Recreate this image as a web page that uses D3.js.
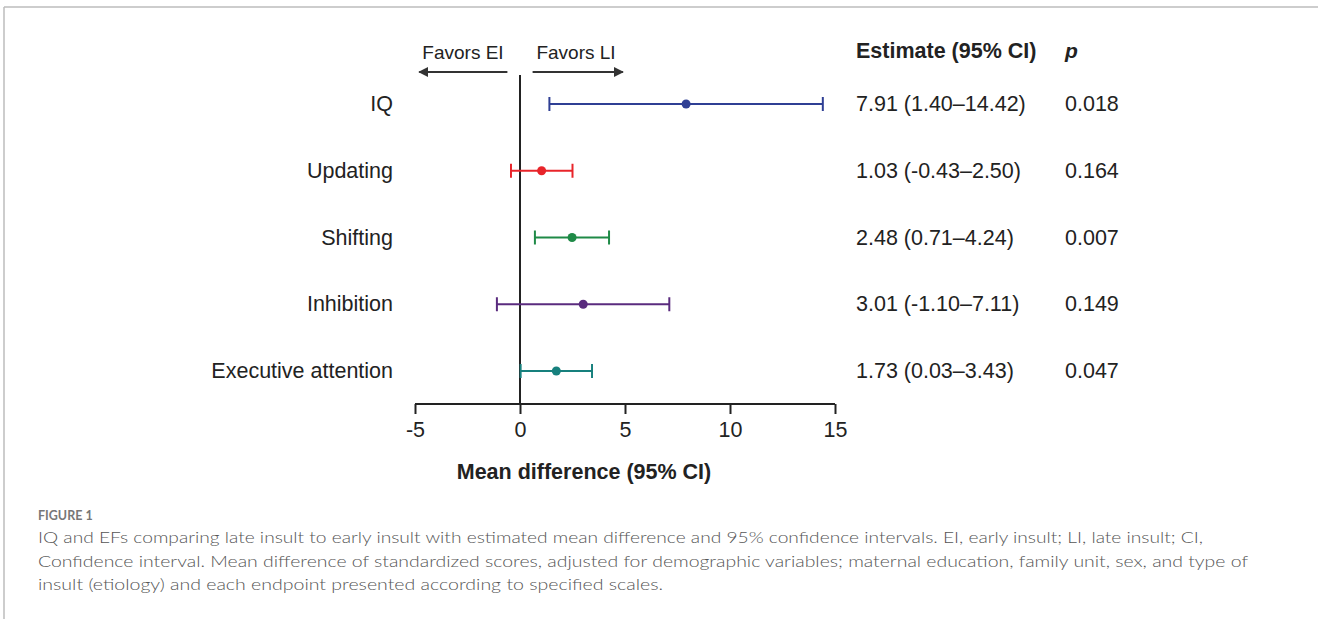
<!DOCTYPE html>
<html>
<head>
<meta charset="utf-8">
<script src="https://cdn.jsdelivr.net/npm/d3@7"></script>
<style>
  body { margin: 0; background: #fff; }
  svg { display: block; }
</style>
</head>
<body>
<svg id="forest"></svg>
<script>
(function(){
    "use strict";

    const width = 1318,
        height = 619;

    // data
    const outcomes = ["IQ", "Updating", "Shifting", "Inhibition", "Executive attention"];
    const estimates = [7.91, 1.03, 2.48, 3.01, 1.73];
    const lower = [1.40, -0.43, 0.71, -1.10, 0.03];
    const upper = [14.42, 2.50, 4.24, 7.11, 3.43];
    const estimateLabels = ["7.91 (1.40\u201314.42)", "1.03 (-0.43\u20132.50)", "2.48 (0.71\u20134.24)",
        "3.01 (-1.10\u20137.11)", "1.73 (0.03\u20133.43)"];
    const pValues = ["0.018", "0.164", "0.007", "0.149", "0.047"];
    const colors = ["#2f3f94", "#e8242a", "#1f8a47", "#5a2b7e", "#17807d"];
    const xTicks = [-5, 0, 5, 10, 15];

    const captionLines = [
        "IQ and EFs comparing late insult to early insult with estimated mean difference and 95% confidence intervals. EI, early insult; LI, late insult; CI,",
        "Confidence interval. Mean difference of standardized scores, adjusted for demographic variables; maternal education, family unit, sex, and type of",
        "insult (etiology) and each endpoint presented according to specified scales."
    ];
    const captionEnds = [1203, 1248, 663];

    const rows = outcomes.map((name, i) => ({
        name, est: estimates[i], lo: lower[i], hi: upper[i],
        label: estimateLabels[i], p: pValues[i], color: colors[i]
    }));

    const svg = d3.select("svg#forest")
        .attr("width", width)
        .attr("height", height);

    const font = "'Liberation Sans', Arial, sans-serif";

    // page frame
    svg.append("line")
        .attr("x1", 4).attr("x2", width).attr("y1", 7).attr("y2", 7)
        .attr("stroke", "#bdbdbd").attr("stroke-width", 1.5);
    svg.append("line")
        .attr("x1", 4).attr("x2", 4).attr("y1", 7).attr("y2", height)
        .attr("stroke", "#bdbdbd").attr("stroke-width", 1.5);

    const x = d3.scaleLinear().domain([-5, 15]).range([415, 835]);
    const y = d3.scalePoint().domain(outcomes).range([104, 371]);

    const axisY = 404;

    // x axis
    const axis = svg.append("g")
        .attr("transform", `translate(0, ${axisY})`)
        .call(d3.axisBottom(x).tickValues(xTicks).tickSize(10).tickPadding(8).tickFormat(d => String(d)));
    axis.select(".domain").attr("stroke", "#222").attr("stroke-width", 2)
        .attr("d", `M${x(-5)},0H${x(15)}`);
    axis.selectAll(".tick line").attr("stroke", "#222").attr("stroke-width", 2);
    axis.selectAll(".tick text")
        .attr("font-family", font).attr("font-size", 21.5).attr("fill", "#222");

    svg.append("text")
        .attr("x", 584).attr("y", 479)
        .attr("text-anchor", "middle")
        .attr("font-family", font).attr("font-size", 21.5).attr("font-weight", "bold")
        .attr("fill", "#222")
        .text("Mean difference (95% CI)");

    // null line
    svg.append("line")
        .attr("x1", x(0)).attr("x2", x(0)).attr("y1", 75).attr("y2", axisY)
        .attr("stroke", "#222").attr("stroke-width", 2);

    // favors arrows
    svg.append("defs").append("marker")
        .attr("id", "arrow")
        .attr("viewBox", "0 0 10 10")
        .attr("refX", 9).attr("refY", 5)
        .attr("markerWidth", 5).attr("markerHeight", 5)
        .attr("markerUnits", "strokeWidth")
        .attr("orient", "auto")
        .append("path").attr("d", "M0,0L10,5L0,10Z").attr("fill", "#333");

    svg.append("line")
        .attr("x1", x(-0.6)).attr("x2", x(-4.8)).attr("y1", 72).attr("y2", 72)
        .attr("stroke", "#333").attr("stroke-width", 2).attr("marker-end", "url(#arrow)");
    svg.append("line")
        .attr("x1", x(0.6)).attr("x2", x(4.9)).attr("y1", 72).attr("y2", 72)
        .attr("stroke", "#333").attr("stroke-width", 2).attr("marker-end", "url(#arrow)");

    svg.append("text")
        .attr("x", 463).attr("y", 59).attr("text-anchor", "middle")
        .attr("font-family", font).attr("font-size", 19).attr("fill", "#222")
        .text("Favors EI");
    svg.append("text")
        .attr("x", 576).attr("y", 59).attr("text-anchor", "middle")
        .attr("font-family", font).attr("font-size", 19).attr("fill", "#222")
        .text("Favors LI");

    // column headers
    svg.append("text")
        .attr("x", 856).attr("y", 58)
        .attr("font-family", font).attr("font-size", 21.5).attr("font-weight", "bold")
        .attr("fill", "#222")
        .text("Estimate (95% CI)");
    svg.append("text")
        .attr("x", 1065).attr("y", 58)
        .attr("font-family", font).attr("font-size", 21).attr("font-weight", "bold")
        .attr("font-style", "italic").attr("fill", "#222")
        .text("p");

    // rows
    const row = svg.selectAll("g.row")
        .data(rows)
        .enter().append("g")
        .attr("class", "row")
        .attr("transform", d => `translate(0, ${y(d.name)})`);

    row.append("text")
        .attr("x", 393).attr("y", 7).attr("text-anchor", "end")
        .attr("font-family", font).attr("font-size", 21.5).attr("fill", "#222")
        .text(d => d.name);

    row.append("line")
        .attr("x1", d => x(d.lo)).attr("x2", d => x(d.hi))
        .attr("stroke", d => d.color).attr("stroke-width", 2);

    row.selectAll("line.cap")
        .data(d => [d.lo, d.hi].map(v => ({ v, color: d.color })))
        .enter().append("line")
        .attr("class", "cap")
        .attr("x1", d => x(d.v)).attr("x2", d => x(d.v))
        .attr("y1", -7).attr("y2", 7)
        .attr("stroke", d => d.color).attr("stroke-width", 2);

    row.append("circle")
        .attr("cx", d => x(d.est)).attr("r", 4.5)
        .attr("fill", d => d.color);

    row.append("text")
        .attr("x", 856).attr("y", 7)
        .attr("font-family", font).attr("font-size", 21.5).attr("fill", "#222")
        .text(d => d.label);

    row.append("text")
        .attr("x", 1065).attr("y", 7)
        .attr("font-family", font).attr("font-size", 21.5).attr("fill", "#222")
        .text(d => d.p);

    // caption
    const capFont = "Lato, 'Open Sans', sans-serif";
    svg.append("text")
        .attr("x", 38).attr("y", 520)
        .attr("font-family", capFont).attr("font-size", 12.5).attr("font-weight", "bold")
        .attr("fill", "#777")
        .text("FIGURE 1");

    svg.selectAll("text.caption")
        .data(captionLines)
        .enter().append("text")
        .attr("class", "caption")
        .attr("x", 38).attr("y", (d, i) => 543 + i * 23.5)
        .attr("font-family", capFont).attr("font-size", 16.5).attr("font-weight", 300)
        .attr("fill", "#555")
        .attr("textLength", (d, i) => captionEnds[i] - 38)
        .attr("lengthAdjust", "spacingAndGlyphs")
        .text(d => d);
})();
</script>
</body>
</html>
